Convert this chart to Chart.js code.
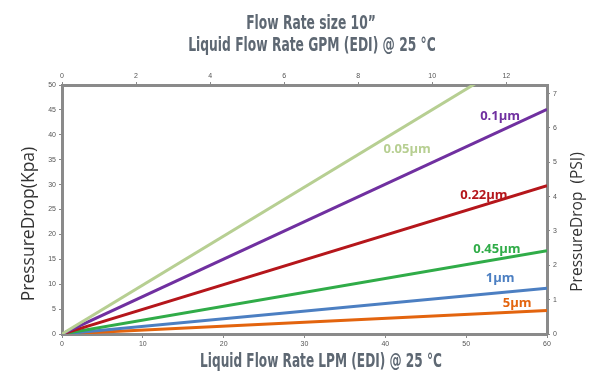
<!DOCTYPE html>
<html>
<head>
<meta charset="utf-8">
<script src="https://cdn.jsdelivr.net/npm/chart.js@4.4.1/dist/chart.umd.min.js"></script>
<style>
  html,body{margin:0;padding:0;background:#fff;}
  #wrap{width:600px;height:385px;position:relative;}
</style>
</head>
<body>
<div id="wrap"><canvas id="c" width="600" height="385"></canvas></div>
<script>
// ---- data ----
const flowLPM = [0, 60];
const seriesNames = ['0.05µm', '0.1µm', '0.22µm', '0.45µm', '1µm', '5µm'];
const drop005 = [0, 59];
const drop01  = [0, 45.1];
const drop022 = [0, 29.8];
const drop045 = [0, 16.7];
const drop1   = [0, 9.2];
const drop5   = [0, 4.7];
const xTicks  = [0, 10, 20, 30, 40, 50, 60];
const gpmTicks = [0, 2, 4, 6, 8, 10, 12];
const kpaTicks = [0, 5, 10, 15, 20, 25, 30, 35, 40, 45, 50];
const psiTicks = [0, 1, 2, 3, 4, 5, 6, 7];
// label anchors (data units)
const labelAtLPM = [42.7, 54.2, 52.2, 53.8, 54.2, 56.3];
const labelAtKPA = [37.1, 43.8, 27.9, 17.1, 11.2, 6.2];

const colors = ['#b7cf92', '#7030a0', '#b5161b', '#30ac48', '#4c7fc2', '#e3640e'];
const allDrops = [drop005, drop01, drop022, drop045, drop1, drop5];

const datasets = allDrops.map((d, i) => ({
  label: seriesNames[i],
  data: flowLPM.map((x, j) => ({x: x, y: d[j]})),
  borderColor: colors[i],
  backgroundColor: colors[i],
  borderWidth: 3,
  pointRadius: 0,
  tension: 0,
  xAxisID: 'x',
  yAxisID: 'y'
}));

const axisGray = '#8a8a8a';
const tickFont = {family: 'Liberation Sans, Arial, sans-serif', size: 7};
const titleGray = '#5e6873';

const textPlugin = {
  id: 'texts',
  afterDatasetsDraw(chart) {
    const ctx = chart.ctx;
    const xs = chart.scales.x, ys = chart.scales.y;
    ctx.save();
    ctx.font = 'bold 13px "Open Sans", "DejaVu Sans", sans-serif';
    ctx.textAlign = 'center';
    ctx.textBaseline = 'middle';
    seriesNames.forEach((n, i) => {
      ctx.fillStyle = colors[i];
      ctx.fillText(n, xs.getPixelForValue(labelAtLPM[i]), ys.getPixelForValue(labelAtKPA[i]));
    });
    ctx.restore();
  },
  afterDraw(chart) {
    const ctx = chart.ctx;
    const drawNarrow = (txt, cx, cy, size, sx) => {
      ctx.save();
      ctx.font = 'bold ' + size + 'px "Liberation Sans Narrow", "DejaVu Sans Condensed", sans-serif';
      ctx.fillStyle = titleGray;
      ctx.textAlign = 'center';
      ctx.textBaseline = 'middle';
      ctx.translate(cx, cy);
      ctx.scale(sx, 1);
      ctx.fillText(txt, 0, 0);
      ctx.restore();
    };
    drawNarrow('Flow Rate size 10\u201d', 311, 24, 19, 0.72);
    drawNarrow('Liquid Flow Rate GPM (EDI) @ 25 \u00b0C', 312, 46, 19, 0.72);
    drawNarrow('Liquid Flow Rate LPM (EDI) @ 25 \u00b0C', 321, 362, 19, 0.71);

    const drawVert = (txt, cx, cy, size, rot) => {
      ctx.save();
      ctx.font = size + 'px "Open Sans", "DejaVu Sans", sans-serif';
      ctx.fillStyle = '#333';
      ctx.textAlign = 'center';
      ctx.textBaseline = 'middle';
      ctx.translate(cx, cy);
      ctx.rotate(rot);
      ctx.fillText(txt, 0, 0);
      ctx.restore();
    };
    drawVert('PressureDrop(Kpa)', 29, 224, 17.5, -Math.PI / 2);
    drawVert('PressureDrop  (PSI)', 578, 222, 15.5, -Math.PI / 2);
  }
};

new Chart(document.getElementById('c'), {
  type: 'line',
  data: {datasets},
  options: {
    responsive: false,
    animation: false,
    devicePixelRatio: 1,
    layout: {padding: 0},
    plugins: {legend: {display: false}, tooltip: {enabled: false}, title: {display: false}},
    scales: {
      x: {
        type: 'linear', position: 'bottom', min: 0, max: 60,
        afterBuildTicks: s => { s.ticks = xTicks.map(v => ({value: v})); },
        ticks: {font: tickFont, color: '#555', padding: 2, maxRotation: 0},
        grid: {drawOnChartArea: false, color: axisGray, tickLength: 4, lineWidth: 1},
        border: {color: axisGray, width: 3},
        afterFit: s => { s.height = 51; }
      },
      x2: {
        type: 'linear', position: 'top', min: 0, max: 13.1,
        afterBuildTicks: s => { s.ticks = gpmTicks.map(v => ({value: v})); },
        ticks: {font: tickFont, color: '#555', padding: 2, maxRotation: 0},
        grid: {drawOnChartArea: false, color: axisGray, tickLength: 3, lineWidth: 1},
        border: {color: axisGray, width: 3},
        afterFit: s => { s.height = 85; }
      },
      y: {
        type: 'linear', position: 'left', min: 0, max: 50,
        afterBuildTicks: s => { s.ticks = kpaTicks.map(v => ({value: v})); },
        ticks: {font: tickFont, color: '#555', padding: 3},
        grid: {drawOnChartArea: false, color: axisGray, tickLength: 3, lineWidth: 1},
        border: {color: axisGray, width: 3},
        afterFit: s => { s.width = 62; }
      },
      y2: {
        type: 'linear', position: 'right', min: 0, max: 7.25,
        afterBuildTicks: s => { s.ticks = psiTicks.map(v => ({value: v})); },
        ticks: {font: tickFont, color: '#555', padding: 3},
        grid: {drawOnChartArea: false, color: axisGray, tickLength: 3, lineWidth: 1},
        border: {color: axisGray, width: 3},
        afterFit: s => { s.width = 53; }
      }
    }
  },
  plugins: [textPlugin]
});
</script>
</body>
</html>
